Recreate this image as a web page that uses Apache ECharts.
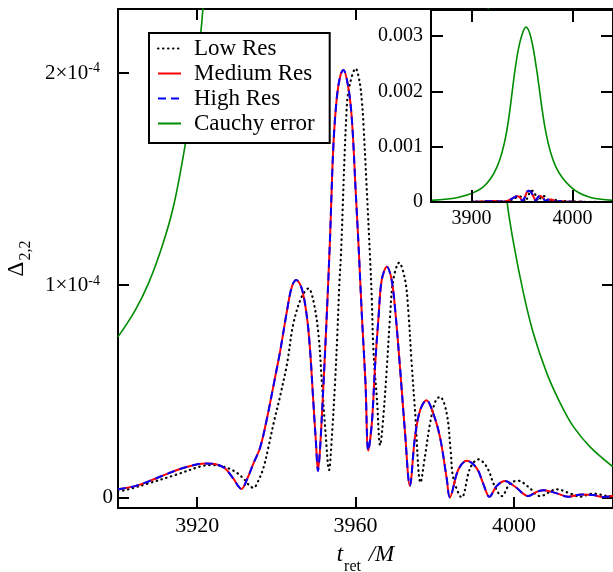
<!DOCTYPE html>
<html>
<head>
<meta charset="utf-8">
<script src="https://cdn.jsdelivr.net/npm/echarts@6/dist/echarts.min.js"></script>
<style>
  html, body { margin: 0; padding: 0; background: #fff; }
  #main { width: 613px; height: 572px; }
</style>
</head>
<body>
<div id="main"></div>
<script>
// t_ret/M , Delta_22 in units of 1e-4
var UNIT = 1e-4;
var FONT = '"Liberation Serif", "DejaVu Serif", serif';

var lowRes = [
  [3900, 0.03], [3901.8, 0.034], [3907.7, 0.066], [3914.4, 0.105], [3921.1, 0.147],
  [3923.5, 0.152], [3926.2, 0.147], [3929.6, 0.121], [3932.1, 0.081], [3933.2, 0.055],
  [3934.2, 0.045], [3935.5, 0.081], [3936.8, 0.144], [3938, 0.238], [3939.3, 0.35],
  [3940.9, 0.474], [3942.7, 0.631], [3944.3, 0.82], [3946.4, 0.945], [3948.1, 0.984],
  [3949.3, 0.929], [3950.6, 0.773], [3951.5, 0.537], [3952.3, 0.333], [3953.3, 0.129],
  [3954, 0.285], [3954.8, 0.537], [3955.4, 0.773], [3955.9, 1.008], [3956.3, 1.141],
  [3957.8, 1.848], [3958.7, 1.958], [3960, 2.02], [3961, 1.958], [3961.6, 1.863],
  [3962, 1.754], [3963.6, 1.149], [3964.1, 0.929], [3964.5, 0.694], [3965.4, 0.458],
  [3966.2, 0.246], [3967, 0.38], [3967.9, 0.615], [3968.7, 0.851], [3969.5, 1.024],
  [3971, 1.105], [3972.5, 1.024], [3973.3, 0.882], [3974.1, 0.647], [3975, 0.411],
  [3976.4, 0.07], [3977.5, 0.191], [3978.8, 0.349], [3980.1, 0.45], [3981.3, 0.474],
  [3983, 0.396], [3984, 0.22], [3984.7, 0.09], [3986.8, 0.0], [3988.9, 0.137],
  [3991, 0.179], [3993.1, 0.144], [3995.2, 0.05], [3996.9, 0.006], [3999, 0.066],
  [4001.1, 0.078], [4003.6, 0.05], [4006.6, 0.006], [4010.8, 0.038], [4014.1, 0.019],
  [4016.7, 0.003], [4020, 0.018], [4024.2, 0.006], [4025, 0.008]
];

var mediumRes = [
  [3900, 0.038], [3904.3, 0.053], [3908.5, 0.081], [3912.7, 0.113], [3916.9, 0.141],
  [3922, 0.160], [3924.5, 0.157], [3927, 0.137], [3929.1, 0.089], [3931.2, 0.04],
  [3932.5, 0.081], [3934.2, 0.16], [3935.9, 0.235], [3937.6, 0.37], [3939.3, 0.53],
  [3941, 0.694], [3942.7, 0.882], [3943.9, 0.992], [3945, 1.024], [3946.4, 0.984],
  [3947.7, 0.851], [3948.5, 0.694], [3949.3, 0.458], [3950, 0.254], [3950.5, 0.125],
  [3951, 0.223], [3951.9, 0.537], [3952.7, 0.851], [3953.5, 1.2], [3954.4, 1.66],
  [3955.3, 1.89], [3956.2, 1.99], [3956.9, 2.013], [3958.2, 1.926], [3959.1, 1.769],
  [3960, 1.45], [3960.8, 1.165], [3961.6, 0.851], [3962.5, 0.537], [3963.2, 0.22],
  [3964.1, 0.349], [3964.9, 0.615], [3965.8, 0.851], [3966.6, 1.024], [3967.9, 1.086],
  [3969.1, 1.024], [3970, 0.882], [3971.2, 0.615], [3972.5, 0.301], [3973.7, 0.055],
  [3975, 0.285], [3976.3, 0.411], [3977.9, 0.458], [3979.6, 0.396], [3981.3, 0.285],
  [3983, 0.09], [3983.8, 0.0], [3985.9, 0.129], [3988.1, 0.172], [3990.6, 0.137],
  [3992.2, 0.066], [3993.8, 0.003], [3995.6, 0.053], [3997.7, 0.077], [4000.3, 0.05],
  [4003.6, 0.006], [4005.7, 0.026], [4007.4, 0.034], [4010.8, 0.019], [4013.7, 0.003],
  [4017.1, 0.014], [4020, 0.011], [4022.5, 0.002], [4025, 0.006]
];

// high res lies on top of medium res everywhere in the picture
var highRes = mediumRes;

// Cauchy error as seen in the main panel (only the flanks are on scale)
var cauchyMain = [
  [3900, 0.756], [3904.3, 0.88], [3907.7, 1.008], [3911.1, 1.18], [3914, 1.37],
  [3916.6, 1.62], [3918.7, 1.87], [3920.8, 2.17], [3921.6, 2.35], [3925, 3.6],
  [3930, 6], [3955, 31.6], [3990, 3.2], [3995, 2.0], [3998.2, 1.40],
  [3999.9, 1.196], [4002.4, 0.961], [4004.9, 0.772], [4008.3, 0.584], [4011.7, 0.443],
  [4015, 0.333], [4019.2, 0.238], [4025, 0.144]
];

// Cauchy error as drawn in the inset
var cauchyInset = [
  [3860, 0.3], [3888.5, 0.9], [3911.4, 2.7], [3925.2, 6.3], [3934.5, 12.4],
  [3943.6, 24.5], [3948.5, 29.3], [3954.1, 31.6], [3959, 29.6], [3964, 24.5],
  [3973.8, 12.4], [3983.6, 6.3], [3998.4, 2.7], [4016.4, 0.9], [4040, 0.3]
];

var mainXTicks = [3920, 3960, 4000];
var mainYTicks = [0, 1e-4, 2e-4];
var insetXTicks = [3900, 4000];
var insetYTicks = [0, 0.001, 0.002, 0.003];

function pts(arr) {
  return arr.map(function (p) { return [p[0], p[1] * UNIT]; });
}

var styles = {
  'Low Res': { color: '#000', width: 2.2, type: [0.5, 4.5], cap: 'round' },
  'Medium Res': { color: '#ff0000', width: 2 },
  'High Res': { color: '#0000ff', width: 2, type: [8, 5] },
  'Cauchy error': { color: '#008c00', width: 1.6 }
};
var panels = [
  [['Low Res', lowRes], ['Medium Res', mediumRes], ['High Res', highRes], ['Cauchy error', cauchyMain]],
  [['Low Res', lowRes], ['Medium Res', mediumRes], ['High Res', highRes], ['Cauchy error', cauchyInset]]
];

var series = [];
panels.forEach(function (sets, g) {
  sets.forEach(function (s) {
    series.push({
      name: s[0],
      type: 'line',
      xAxisIndex: g * 2,
      yAxisIndex: g * 2,
      data: pts(s[1]),
      symbol: 'none',
      showSymbol: false,
      smooth: 0.35,
      clip: true,
      silent: true,
      animation: false,
      lineStyle: styles[s[0]],
      itemStyle: { color: styles[s[0]].color },
      z: g ? 11 : 2
    });
  });
});

function plain(v) { return String(v); }

function tickAxis(o) {
  return Object.assign({
    type: 'value',
    splitLine: { show: false },
    axisLine: { show: true, onZero: false, lineStyle: { color: '#000', width: 2 } },
    axisTick: { show: true, inside: true, length: 11, lineStyle: { color: '#000', width: 2 } },
    axisLabel: { show: false }
  }, o);
}

var chart = echarts.init(document.getElementById('main'));
chart.setOption({
  backgroundColor: '#fff',
  animation: false,
  grid: [
    { left: 118, top: 9, right: 0, bottom: 64, containLabel: false, outerBoundsMode: 'none' },
    { left: 431, top: 10, right: 0, height: 192, containLabel: false, outerBoundsMode: 'none' }
  ],
  graphic: [{
    type: 'rect', z: 5,
    shape: { x: 431, y: 10, width: 190, height: 192 },
    style: { fill: '#fff' }
  }],
  legend: {
    orient: 'vertical', left: 149, top: 33,
    padding: [4, 15, 8, 8], itemGap: 2, itemWidth: 23, itemHeight: 14,
    backgroundColor: '#fff', borderColor: '#000', borderWidth: 2,
    selectedMode: false,
    itemStyle: { opacity: 0 },
    textStyle: { fontSize: 23, fontFamily: FONT, color: '#000', padding: [0, 0, 0, 8] },
    data: ['Low Res', 'Medium Res', 'High Res', 'Cauchy error']
  },
  xAxis: [
    tickAxis({
      gridIndex: 0, position: 'bottom', min: 3900, max: 4025,
      axisTick: { show: true, inside: true, length: 11, customValues: mainXTicks, lineStyle: { color: '#000', width: 2 } },
      axisLabel: { show: true, customValues: mainXTicks, formatter: plain, fontSize: 22, fontFamily: FONT, color: '#000', margin: 7 },
      name: '{i|t}{s|ret}{i| /M}', nameLocation: 'middle', nameGap: 35,
      nameTextStyle: {
        rich: {
          i: { fontSize: 23, fontStyle: 'italic', fontFamily: FONT, color: '#000', lineHeight: 23, verticalAlign: 'top' },
          s: { fontSize: 16, fontFamily: FONT, color: '#000', lineHeight: 16, verticalAlign: 'top', padding: [16, 2, 0, 1] }
        }
      }
    }),
    tickAxis({
      gridIndex: 0, position: 'top', min: 3900, max: 4025,
      axisTick: { show: true, inside: true, length: 11, customValues: mainXTicks, lineStyle: { color: '#000', width: 2 } }
    }),
    tickAxis({
      gridIndex: 1, position: 'bottom', min: 3860, max: 4040, z: 12,
      axisTick: { show: true, inside: true, length: 12, customValues: insetXTicks, lineStyle: { color: '#000', width: 2 } },
      axisLabel: { show: true, customValues: insetXTicks, formatter: plain, fontSize: 20, fontFamily: FONT, color: '#000', margin: 7 }
    }),
    tickAxis({
      gridIndex: 1, position: 'top', min: 3860, max: 4040, z: 12,
      axisTick: { show: true, inside: true, length: 12, customValues: insetXTicks, lineStyle: { color: '#000', width: 2 } }
    })
  ],
  yAxis: [
    tickAxis({
      gridIndex: 0, position: 'left', min: -0.05e-4, max: 2.3e-4,
      axisTick: { show: true, inside: true, length: 11, customValues: mainYTicks, lineStyle: { color: '#000', width: 2 } },
      axisLabel: {
        show: true, customValues: mainYTicks, margin: 5,
        formatter: function (v) {
          if (Math.abs(v) < 1e-12) return '{m|0}';
          return '{m|' + Math.round(v / 1e-4) + '×10}{e|-4}';
        },
        rich: {
          m: { fontSize: 21, fontFamily: FONT, color: '#000', lineHeight: 22, verticalAlign: 'bottom' },
          e: { fontSize: 14, fontFamily: FONT, color: '#000', lineHeight: 14, verticalAlign: 'top', padding: [0, 13, 14, 0] }
        }
      },
      name: '{d|Δ}{s|2,2}', nameLocation: 'middle', nameRotate: 90, nameGap: 80,
      nameTextStyle: {
        rich: {
          d: { fontSize: 23, fontFamily: FONT, color: '#000', lineHeight: 23, verticalAlign: 'top' },
          s: { fontSize: 16, fontFamily: FONT, color: '#000', lineHeight: 16, verticalAlign: 'top', padding: [13, 0, 0, 1] }
        }
      }
    }),
    tickAxis({
      gridIndex: 0, position: 'right', min: -0.05e-4, max: 2.3e-4,
      axisTick: { show: true, inside: true, length: 11, customValues: mainYTicks, lineStyle: { color: '#000', width: 2 } }
    }),
    tickAxis({
      gridIndex: 1, position: 'left', min: 0, max: 0.00347, z: 12,
      axisTick: { show: true, inside: true, length: 12, customValues: insetYTicks, lineStyle: { color: '#000', width: 2 } },
      axisLabel: { show: true, customValues: insetYTicks, formatter: plain, fontSize: 20, fontFamily: FONT, color: '#000', margin: 8 }
    }),
    tickAxis({
      gridIndex: 1, position: 'right', min: 0, max: 0.00347, z: 12,
      axisTick: { show: true, inside: true, length: 12, customValues: insetYTicks, lineStyle: { color: '#000', width: 2 } }
    })
  ],
  series: series
});
</script>
</body>
</html>
